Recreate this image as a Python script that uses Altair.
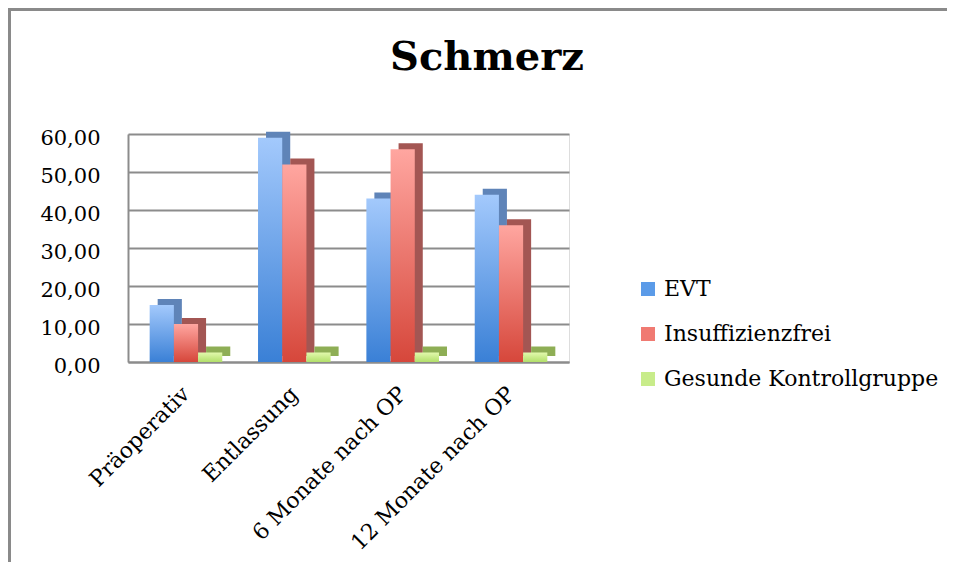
import altair as alt
import pandas as pd

title_text = "Schmerz"
categories = ["Präoperativ", "Entlassung", "6 Monate nach OP", "12 Monate nach OP"]
series = ["EVT", "Insuffizienzfrei", "Gesunde Kontrollgruppe"]
evt = [15.0, 59.0, 43.0, 44.0]
insuff = [10.0, 52.0, 56.0, 36.0]
gesund = [2.5, 2.5, 2.5, 2.5]

rows = []
for i, c in enumerate(categories):
    for s, vals in zip(series, [evt, insuff, gesund]):
        rows.append({"Zeitpunkt": c, "Gruppe": s, "Wert": vals[i]})
df = pd.DataFrame(rows)

FONT = "DejaVu Serif"
W, H = 441, 228
PI, PO = 0.33, 0.2
STEP = W / (len(categories) - PI + 2 * PO)
BW = STEP * (1 - PI) / len(series)   # width of one bar within a group
DEPTH_X, DEPTH_Y = 8, 6

front_colors = {
    "EVT": ("#a3c9fc", "#3a80d6"),
    "Insuffizienzfrei": ("#ffa6a0", "#d6473b"),
    "Gesunde Kontrollgruppe": ("#e2f9ad", "#b2df6a"),
}
side_colors = {"EVT": "#5f84b8", "Insuffizienzfrei": "#a35653", "Gesunde Kontrollgruppe": "#8eae55"}
legend_colors = ["#5b9be8", "#f07a72", "#c8ec8a"]

x_enc = alt.X("Zeitpunkt:N", sort=categories,
              scale=alt.Scale(paddingInner=PI, paddingOuter=PO),
              axis=alt.Axis(title=None, labelAngle=-45, labelAlign="right", labelBaseline="middle",
                            labelPadding=28, labelFontSize=22, labelFont=FONT, labelColor="black",
                            labelLimit=400, ticks=False, domainColor="#8c8c8c", domainWidth=2))
y_enc = alt.Y("Wert:Q", scale=alt.Scale(domain=[0, 60], nice=False),
              axis=alt.Axis(title=None, values=[0, 10, 20, 30, 40, 50, 60],
                            labelExpr="replace(format(datum.value, '.2f'), '.', ',')",
                            labelFontSize=21, labelFont=FONT, labelColor="black", labelPadding=28,
                            labelOffset=4, ticks=False, grid=True, gridColor="#8c8c8c", gridWidth=2,
                            domainColor="#8c8c8c", domainWidth=2))

base = alt.Chart(df)

legend_layer = base.mark_bar(opacity=0).encode(
    x=x_enc, y=y_enc,
    color=alt.Color("Gruppe:N", sort=series,
                    scale=alt.Scale(domain=series, range=legend_colors),
                    legend=alt.Legend(title=None, orient="none", legendX=509, legendY=144,
                                      symbolType="square", symbolSize=196, symbolOpacity=1,
                                      symbolStrokeWidth=0, labelLimit=500,
                                      labelFont=FONT, labelFontSize=22, labelColor="black",
                                      rowPadding=23, labelOffset=5)),
)

side_layers = []
front_layers = []
for k, s in enumerate(series):
    sub = base.transform_filter(alt.datum.Gruppe == s)
    shift = (k - (len(series) - 1) / 2) * BW
    side_layers.append(sub.mark_bar(color=side_colors[s], width=BW,
                                    xOffset=shift + DEPTH_X, yOffset=-DEPTH_Y).encode(x=x_enc, y=y_enc))
    top, bottom = front_colors[s]
    grad = alt.LinearGradient(gradient="linear", x1=0, x2=0, y1=0, y2=1,
                              stops=[alt.GradientStop(color=top, offset=0),
                                     alt.GradientStop(color=bottom, offset=1)])
    front_layers.append(sub.mark_bar(color=grad, width=BW, xOffset=shift).encode(x=x_enc, y=y_enc))

one = pd.DataFrame({"t": [title_text]})
title_layer = alt.Chart(one).mark_text(font=FONT, fontSize=40, fontWeight="bold", color="black",
                                       align="center", baseline="alphabetic").encode(
    text="t:N", x=alt.value(359), y=alt.value(-64))

border_left = alt.Chart(one).mark_rule(color="#8a8a8a", strokeWidth=3).encode(
    x=alt.value(-118.5), y=alt.value(-124.5), y2=alt.value(H + 300))
border_top = alt.Chart(one).mark_rule(color="#8a8a8a", strokeWidth=3).encode(
    x=alt.value(-120), x2=alt.value(W + 400), y=alt.value(-124.5))

chart = alt.layer(legend_layer, *side_layers, *front_layers, title_layer, border_left, border_top).properties(
    width=W, height=H,
    autosize="none",
    padding={"left": 120, "top": 126, "right": 378, "bottom": 200},
).configure_view(stroke=None).configure(background="white")

chart.save("out.html", embed_options={"renderer": "svg", "actions": False})
